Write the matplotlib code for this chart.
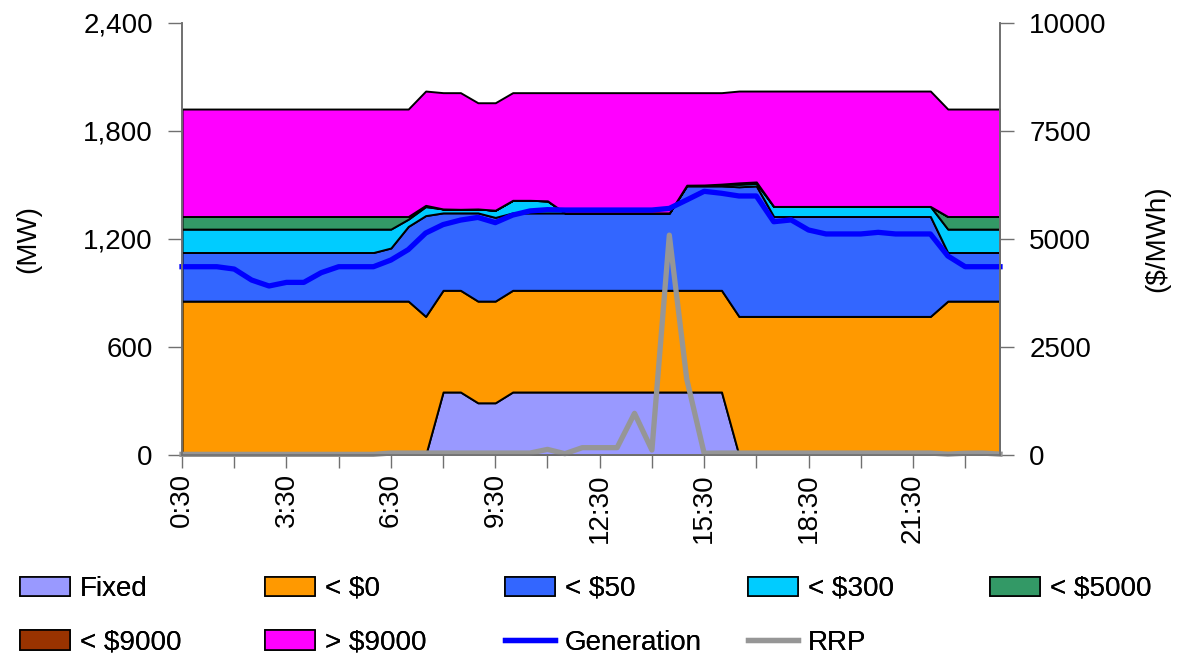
import matplotlib
matplotlib.use("Agg")
import matplotlib.pyplot as plt
from matplotlib.patches import Patch
from matplotlib.lines import Line2D
from matplotlib.ticker import FixedLocator, StrMethodFormatter

plt.rcParams['font.family'] = ['Liberation Sans', 'DejaVu Sans']
plt.rcParams['font.size'] = 20

# half-hour trading intervals, 0:30 .. 24:00
periods = list(range(48))
tick_pos = [0, 6, 12, 18, 24, 30, 36, 42]
tick_labels = ["0:30", "3:30", "6:30", "9:30", "12:30", "15:30", "18:30", "21:30"]

# offered capacity by price band (MW)
fixed_mw = [0, 0, 0, 0, 0, 0, 0, 0, 0, 0, 0, 0,
            0, 0, 0, 350, 350, 290, 290, 350, 350, 350, 350, 350,
            350, 350, 350, 350, 350, 350, 350, 350, 0, 0, 0, 0,
            0, 0, 0, 0, 0, 0, 0, 0, 0, 0, 0, 0]
below_0 = [855, 855, 855, 855, 855, 855, 855, 855, 855, 855, 855, 855,
           855, 855, 770, 565, 565, 565, 565, 565, 565, 565, 565, 565,
           565, 565, 565, 565, 565, 565, 565, 565, 770, 770, 770, 770,
           770, 770, 770, 770, 770, 770, 770, 770, 855, 855, 855, 855]
below_50 = [270, 270, 270, 270, 270, 270, 270, 270, 270, 270, 270, 270,
            295, 415, 560, 430, 430, 490, 465, 430, 430, 430, 430, 430,
            430, 430, 430, 430, 430, 580, 580, 580, 720, 725, 555, 555,
            555, 555, 555, 555, 555, 555, 555, 555, 270, 270, 270, 270]
below_300 = [130, 130, 130, 130, 130, 130, 130, 130, 130, 130, 130, 130,
             105, 40, 50, 22, 20, 22, 40, 70, 70, 67, 0, 0,
             0, 0, 0, 0, 0, 4, 5, 10, 14, 14, 56, 56,
             56, 56, 56, 56, 56, 56, 56, 56, 130, 130, 130, 130]
below_5000 = [70, 70, 70, 70, 70, 70, 70, 70, 70, 70, 70, 70,
              70, 15, 7, 0, 0, 0, 0, 0, 0, 0, 0, 0,
              0, 0, 0, 0, 0, 0, 0, 0, 8, 8, 0, 0,
              0, 0, 0, 0, 0, 0, 0, 0, 70, 70, 70, 70]
below_9000 = [0, 0, 0, 0, 0, 0, 0, 0, 0, 0, 0, 0,
              0, 0, 0, 0, 0, 0, 0, 0, 0, 0, 0, 0,
              0, 0, 0, 0, 0, 0, 0, 0, 0, 0, 0, 0,
              0, 0, 0, 0, 0, 0, 0, 0, 0, 0, 0, 0]
above_9000 = [597, 597, 597, 597, 597, 597, 597, 597, 597, 597, 597, 597,
              597, 597, 635, 646, 648, 590, 597, 598, 598, 601, 668, 668,
              668, 668, 668, 668, 668, 514, 513, 508, 510, 505, 641, 641,
              641, 641, 641, 641, 641, 641, 641, 641, 597, 597, 597, 597]

generation = [1046, 1046, 1046, 1033, 972, 939, 959, 959, 1013, 1046, 1046, 1046,
              1083, 1141, 1233, 1280, 1305, 1320, 1291, 1333, 1356, 1363, 1361, 1361,
              1361, 1361, 1361, 1361, 1370, 1417, 1465, 1454, 1439, 1439, 1296, 1306,
              1250, 1228, 1228, 1228, 1237, 1228, 1228, 1228, 1106, 1046, 1046, 1046]
rrp = [15, 15, 15, 15, 15, 15, 15, 15, 15, 15, 15, 15,
       45, 45, 45, 45, 45, 45, 45, 45, 45, 130, 30, 170,
       170, 170, 965, 115, 5090, 1760, 40, 45, 45, 45, 45, 45,
       45, 45, 45, 45, 45, 45, 45, 45, 20, 40, 45, 20]

band_names = ["Fixed", "< $0", "< $50", "< $300", "< $5000", "< $9000", "> $9000"]
band_colors = ["#9999FF", "#FF9900", "#3366FF", "#00CCFF", "#339966", "#993300", "#FF00FF"]
gen_color = "#0000FF"
rrp_color = "#969696"
axis_grey = "#707070"

fig = plt.figure(figsize=(11.88, 6.58), dpi=100)
ax = fig.add_axes([182 / 1188, 1 - 455 / 658, 818 / 1188, 432 / 658])

ax.stackplot(periods, fixed_mw, below_0, below_50, below_300, below_5000,
             below_9000, above_9000, colors=band_colors,
             edgecolor="black", linewidth=1.4)
ax.plot(periods, generation, color=gen_color, lw=3.8, clip_on=False)

ax.set_xlim(0, 47)
ax.set_ylim(0, 2400)
ax.set_yticks([0, 600, 1200, 1800, 2400])
ax.yaxis.set_major_formatter(StrMethodFormatter("{x:,.0f}"))
ax.set_xticks(tick_pos)
ax.set_xticklabels(tick_labels, rotation=90)
ax.xaxis.set_minor_locator(FixedLocator([3, 9, 15, 21, 27, 33, 39, 45]))
ax.tick_params(axis="x", which="both", length=9, width=1, color=axis_grey, pad=4)
ax.tick_params(axis="y", length=10, width=1, color=axis_grey, pad=11)

ax2 = ax.twinx()
ax2.plot(periods, rrp, color=rrp_color, lw=3.8, clip_on=False)
ax2.set_ylim(0, 10000)
ax2.set_yticks([0, 2500, 5000, 7500, 10000])
ax2.tick_params(axis="y", length=10, width=1, color=axis_grey, pad=11)

for a in (ax, ax2):
    a.spines["top"].set_visible(False)
    for side in ("left", "right", "bottom"):
        a.spines[side].set_color(axis_grey)
        a.spines[side].set_linewidth(1.2)

fig.text(28 / 1188, 1 - 239 / 658, "(MW)", rotation=90, ha="center", va="center")
fig.text(1157 / 1188, 1 - 239 / 658, "($/MWh)", rotation=90, ha="center", va="center")

# legend laid out as five evenly spaced columns
patches = [Patch(facecolor=c, edgecolor="black", linewidth=1.2, label=n)
           for n, c in zip(band_names, band_colors)]
gen_handle = Line2D([], [], color=gen_color, lw=3.8, label="Generation")
rrp_handle = Line2D([], [], color=rrp_color, lw=3.8, label="RRP")
columns = [
    [patches[0], patches[5]],
    [patches[1], patches[6]],
    [patches[2], gen_handle],
    [patches[3], rrp_handle],
    [patches[4]],
]
col_x = [20, 265, 505, 748, 990]
for handles, x in zip(columns, col_x):
    leg = fig.legend(handles=handles, loc="upper left",
                     bbox_to_anchor=(x / 1188, 1 - 576 / 658),
                     frameon=False, borderpad=0, borderaxespad=0,
                     handlelength=1.8, handleheight=0.7, handletextpad=0.35,
                     labelspacing=1.0)
    fig.add_artist(leg)

fig.savefig("out.png", dpi=100)
